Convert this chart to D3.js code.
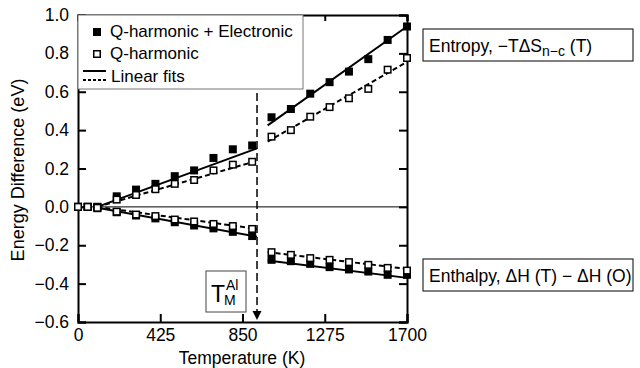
<!DOCTYPE html>
<html>
<head>
<meta charset="utf-8">
<script src="https://cdn.jsdelivr.net/npm/d3@7"></script>
<style>
  html, body { margin: 0; padding: 0; background: #fff; }
  svg { display: block; font-family: "Liberation Sans", Arial, Helvetica, sans-serif; }
</style>
</head>
<body>
<svg id="chart" width="640" height="368"></svg>
<script>
// Temperatures (K) of the solid and liquid runs
const solidT  = [0, 50, 100, 200, 300, 400, 500, 600, 700, 800, 900];
const liquidT = [1000, 1100, 1200, 1300, 1400, 1500, 1600, 1700];

// Entropy term -T dS (eV)
const entropyFullSolid  = [0, 0, 0, 0.055, 0.09, 0.12, 0.16, 0.19, 0.255, 0.30, 0.32];
const entropyHarmSolid  = [0, 0, 0, 0.038, 0.062, 0.092, 0.12, 0.14, 0.19, 0.22, 0.235];
const entropyFullLiquid = [0.467, 0.51, 0.59, 0.65, 0.705, 0.77, 0.87, 0.94];
const entropyHarmLiquid = [0.366, 0.40, 0.47, 0.52, 0.566, 0.615, 0.715, 0.776];

// Enthalpy term H(T) - H(0) (eV)
const enthalpyFullSolid  = [0, 0, -0.007, -0.028, -0.045, -0.06, -0.08, -0.097, -0.112, -0.13, -0.152];
const enthalpyHarmSolid  = [0, 0, -0.005, -0.025, -0.04, -0.048, -0.066, -0.076, -0.089, -0.10, -0.115];
const enthalpyFullLiquid = [-0.276, -0.283, -0.297, -0.314, -0.326, -0.337, -0.354, -0.354];
const enthalpyHarmLiquid = [-0.236, -0.25, -0.267, -0.276, -0.288, -0.302, -0.318, -0.332];

// Linear fits as [T0, E0, T1, E1]
const fitsFull = [
  [100, 0, 925, 0.305],
  [980, 0.425, 1700, 0.94],
  [100, -0.005, 925, -0.155],
  [980, -0.28, 1700, -0.37]
];
const fitsHarm = [
  [100, 0, 925, 0.24],
  [980, 0.34, 1700, 0.755],
  [100, 0, 925, -0.115],
  [980, -0.236, 1700, -0.323]
];

const meltingT = 925;
const xTicks = [0, 425, 850, 1275, 1700];
const yTicks = [-0.6, -0.4, -0.2, 0.0, 0.2, 0.4, 0.6, 0.8, 1.0];

const svg = d3.select("#chart");
const x = d3.scaleLinear().domain([0, 1700]).range([78, 407]);
const y = d3.scaleLinear().domain([-0.6, 1.0]).range([322, 15]);
const fmt = d3.format(".1f");

// zero reference line
svg.append("line")
  .attr("x1", x(0)).attr("x2", x(1700))
  .attr("y1", y(0)).attr("y2", y(0))
  .attr("stroke", "#000").attr("stroke-width", 1);

// axes
const gx = svg.append("g").attr("transform", `translate(0,${y(-0.6)})`)
  .call(d3.axisBottom(x).tickValues(xTicks).tickSize(-8).tickPadding(7).tickFormat(d3.format("d")));
const gxt = svg.append("g").attr("transform", `translate(0,${y(1.0)})`)
  .call(d3.axisTop(x).tickValues(xTicks).tickSize(-6).tickFormat(""));
const gy = svg.append("g").attr("transform", `translate(${x(0)},0)`)
  .call(d3.axisLeft(y).tickValues(yTicks).tickSize(-8).tickPadding(9).tickFormat(fmt));
const gyr = svg.append("g").attr("transform", `translate(${x(1700)},0)`)
  .call(d3.axisRight(y).tickValues(yTicks).tickSize(-8).tickFormat(""));

[gx, gxt, gy, gyr].forEach(g => {
  g.select(".domain").attr("stroke", "#000").attr("stroke-width", 2);
  g.selectAll(".tick line").attr("stroke", "#000").attr("stroke-width", 2);
  g.selectAll(".tick text").attr("fill", "#000").attr("font-size", 17.5)
    .attr("font-family", "'Liberation Sans', Arial, sans-serif");
});

// axis titles
svg.append("text").attr("x", 242).attr("y", 364).attr("text-anchor", "middle")
  .attr("font-size", 17.5).text("Temperature (K)");
svg.append("text").attr("transform", "translate(24,170) rotate(-90)")
  .attr("text-anchor", "middle").attr("font-size", 18).text("Energy Difference (eV)");

// fit lines
const fitG = svg.append("g");
fitG.selectAll("line.full").data(fitsFull).join("line")
  .attr("x1", d => x(d[0])).attr("y1", d => y(d[1]))
  .attr("x2", d => x(d[2])).attr("y2", d => y(d[3]))
  .attr("stroke", "#000").attr("stroke-width", 2);
fitG.selectAll("line.harm").data(fitsHarm).join("line")
  .attr("x1", d => x(d[0])).attr("y1", d => y(d[1]))
  .attr("x2", d => x(d[2])).attr("y2", d => y(d[3]))
  .attr("stroke", "#000").attr("stroke-width", 2).attr("stroke-dasharray", "5,3");

// markers
const ms = 8;
function pts(ts, vs) { return ts.map((t, i) => ({ t, v: vs[i] })); }
const openPts = [].concat(
  pts(solidT, entropyHarmSolid), pts(liquidT, entropyHarmLiquid),
  pts(solidT, enthalpyHarmSolid), pts(liquidT, enthalpyHarmLiquid));
const fullPts = [].concat(
  pts(solidT, entropyFullSolid), pts(liquidT, entropyFullLiquid),
  pts(solidT, enthalpyFullSolid), pts(liquidT, enthalpyFullLiquid));

svg.append("g").selectAll("rect").data(fullPts).join("rect")
  .attr("x", d => x(d.t) - ms / 2).attr("y", d => y(d.v) - ms / 2)
  .attr("width", ms).attr("height", ms).attr("fill", "#000");
svg.append("g").selectAll("rect").data(openPts).join("rect")
  .attr("x", d => x(d.t) - (ms - 1.5) / 2).attr("y", d => y(d.v) - (ms - 1.5) / 2)
  .attr("width", ms - 1.5).attr("height", ms - 1.5)
  .attr("fill", "#fff").attr("stroke", "#000").attr("stroke-width", 1.5);

// legend
const lg = svg.append("g");
lg.append("rect").attr("x", x(0)).attr("y", y(1.0)).attr("width", 225).attr("height", 74)
  .attr("fill", "#fff").attr("stroke", "#777").attr("stroke-width", 1);
lg.append("rect").attr("x", 93).attr("y", 28).attr("width", 8).attr("height", 8).attr("fill", "#000");
lg.append("rect").attr("x", 93.75).attr("y", 50.75).attr("width", 6.5).attr("height", 6.5)
  .attr("fill", "#fff").attr("stroke", "#000").attr("stroke-width", 1.5);
lg.append("line").attr("x1", 83).attr("x2", 106).attr("y1", 71).attr("y2", 71)
  .attr("stroke", "#000").attr("stroke-width", 2);
lg.append("line").attr("x1", 83).attr("x2", 106).attr("y1", 80).attr("y2", 80)
  .attr("stroke", "#000").attr("stroke-width", 2).attr("stroke-dasharray", "3,2");
lg.append("text").attr("x", 110).attr("y", 37).attr("font-size", 17).text("Q-harmonic + Electronic");
lg.append("text").attr("x", 110).attr("y", 59).attr("font-size", 17).text("Q-harmonic");
lg.append("text").attr("x", 111).attr("y", 82).attr("font-size", 17).text("Linear fits");

// melting temperature marker
svg.append("defs").append("marker").attr("id", "arrow")
  .attr("viewBox", "0 0 10 10").attr("refX", 10).attr("refY", 5)
  .attr("markerWidth", 9).attr("markerHeight", 11).attr("markerUnits", "userSpaceOnUse")
  .attr("orient", "auto")
  .append("path").attr("d", "M0,0 L10,5 L0,10 Z").attr("fill", "#000");
svg.append("line").attr("x1", x(meltingT)).attr("x2", x(meltingT))
  .attr("y1", 93).attr("y2", 320)
  .attr("stroke", "#000").attr("stroke-width", 1.5).attr("stroke-dasharray", "8,4")
  .attr("marker-end", "url(#arrow)");

const tm = svg.append("g");
tm.append("rect").attr("x", 206).attr("y", 271).attr("width", 40).attr("height", 41)
  .attr("fill", "#fff").attr("stroke", "#444").attr("stroke-width", 1);
tm.append("text").attr("x", 211).attr("y", 302).attr("font-size", 23).text("T");
tm.append("text").attr("x", 226).attr("y", 290).attr("font-size", 14).text("Al");
tm.append("text").attr("x", 224).attr("y", 305).attr("font-size", 14).text("M");

// side labels, boxes of equal width
function sideLabel(top, build) {
  const g = svg.append("g");
  g.append("rect").attr("x", 423).attr("y", top).attr("width", 210).attr("height", 32)
    .attr("fill", "#fff").attr("stroke", "#000").attr("stroke-width", 1);
  const t = g.append("text").attr("x", 429).attr("y", top + 23).attr("font-size", 17.5);
  build(t);
}
sideLabel(29, t => {
  t.append("tspan").text("Entropy,  \u2212T\u0394S");
  t.append("tspan").attr("font-size", 14).attr("dy", 4).text("n\u2212c");
  t.append("tspan").attr("dy", -4).text("  (T)");
});
sideLabel(259, t => {
  t.text("Enthalpy, \u0394H (T) \u2212 \u0394H (O)");
});
</script>
</body>
</html>
